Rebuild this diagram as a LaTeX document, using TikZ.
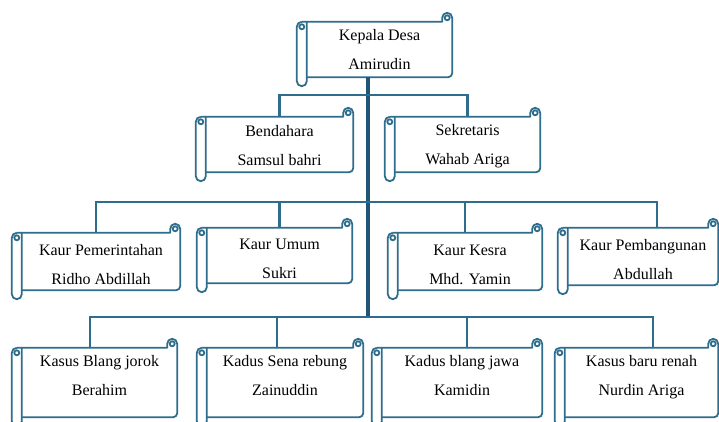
\documentclass[tikz,border=0pt]{standalone}
\usepackage{fontspec}
\setmainfont{Liberation Serif}
\usetikzlibrary{calc}
\definecolor{scrollc}{RGB}{47,109,140}
\definecolor{trunkc}{RGB}{31,86,120}
\tikzset{
  body/.style={draw=none, rectangle, inner sep=0pt, align=center, font=\fontsize{16}{29}\selectfont},
  lowtext/.style={text depth=14pt},
  sline/.style={draw=scrollc, line width=1.8pt, line join=round},
  branch/.style={draw=scrollc, line width=2.3pt},
  trunk/.style={draw=trunkc, line width=4.5pt}
}
\newcommand\scrolldeco[1]{%
  \draw[sline] ($(#1.north west)+(-5,0)$) -- ($(#1.north east)+(-10,0)$) -- ++(0,4)
     arc[start angle=180,end angle=0,radius=5pt] -- ($(#1.south east)+(0,4)$)
     arc[start angle=0,end angle=-90,radius=4pt] -- (#1.south west);
  \draw[sline] ($(#1.north west)+(-5,0)$) arc[start angle=90,end angle=180,radius=5pt]
     -- ($(#1.south west)+(-10,-4)$) arc[start angle=180,end angle=360,radius=5pt] -- (#1.north west);
  \draw[sline] ($(#1.north west)+(-5,-5)$) circle[radius=2.5pt];
  \draw[sline] ($(#1.north east)+(-5,4)$) circle[radius=2.5pt];
}
\newcommand\dn{\rule{0pt}{17pt}}
\begin{document}
\begin{tikzpicture}[x=1pt,y=1pt]
\fill[white] (0,0) rectangle (719,-421);
\useasboundingbox (0,0) rectangle (719,-421);
\clip (0,0) rectangle (719,-421);

% level 1
\node[body,minimum width=145pt,minimum height=55pt] (kd) at (379.5,-49.5) {Kepala Desa\\Amirudin};
% level 2
\node[body,minimum width=147pt,minimum height=55pt] (bend) at (279.5,-144.5) {\rule{0pt}{14pt}Bendahara\\Samsul bahri};
\node[body,minimum width=145pt,minimum height=55pt] (sek) at (467.5,-144.5) {\rule{0pt}{14pt}Sekretaris\\Wahab Ariga};
% level 3
\node[body,minimum width=158pt,minimum height=57pt] (kp) at (101,-261.5) {\dn Kaur Pemerintahan\\Ridho Abdillah};
\node[body,minimum width=145pt,minimum height=55pt] (ku) at (279.5,-255.5) {\dn Kaur Umum\\Sukri};
\node[body,minimum width=144pt,minimum height=57pt] (kk) at (470,-261.5) {\dn Kaur Kesra\\Mhd. Yamin};
\node[body,minimum width=150pt,minimum height=57pt] (kpb) at (643,-256.5) {\dn Kaur Pembangunan\\Abdullah};
% level 4
\node[body,lowtext,minimum width=155pt,minimum height=69pt] (kbj) at (99.5,-382.5) {Kasus Blang jorok\\Berahim};
\node[body,lowtext,minimum width=156pt,minimum height=69pt] (ksr) at (285,-382.5) {Kadus Sena rebung\\Zainuddin};
\node[body,lowtext,minimum width=160pt,minimum height=69pt] (kbjw) at (462,-382.5) {Kadus blang jawa\\Kamidin};
\node[body,lowtext,minimum width=153pt,minimum height=69pt] (kbr) at (641.5,-382.5) {Kasus baru renah\\Nurdin Ariga};

\foreach \n in {kd,bend,sek,kp,ku,kk,kpb,kbj,ksr,kbjw,kbr} {\scrolldeco{\n}}

% connectors
\coordinate (tb) at (368,-317);
\draw[trunk] (kd.south -| tb) -- (tb);
\draw[branch] (bend.north) -- ++(0,22) -| (sek.north);
\draw[branch] ($(kp.north)+(-5,0)$) -- ++(0,31) -| ($(kpb.north)+(14,0)$);
\draw[branch] (ku.north) -- ++(0,26);
\draw[branch] ($(kk.north)+(-5,0)$) -- ++(0,31);
\draw[branch] ($(kbj.north)+(-9.5,0)$) -- ++(0,31) -| ($(kbr.north)+(11.5,0)$);
\draw[branch] ($(ksr.north)+(-8,0)$) -- ++(0,31);
\draw[branch] ($(kbjw.north)+(5,0)$) -- ++(0,31);
\end{tikzpicture}
\end{document}
